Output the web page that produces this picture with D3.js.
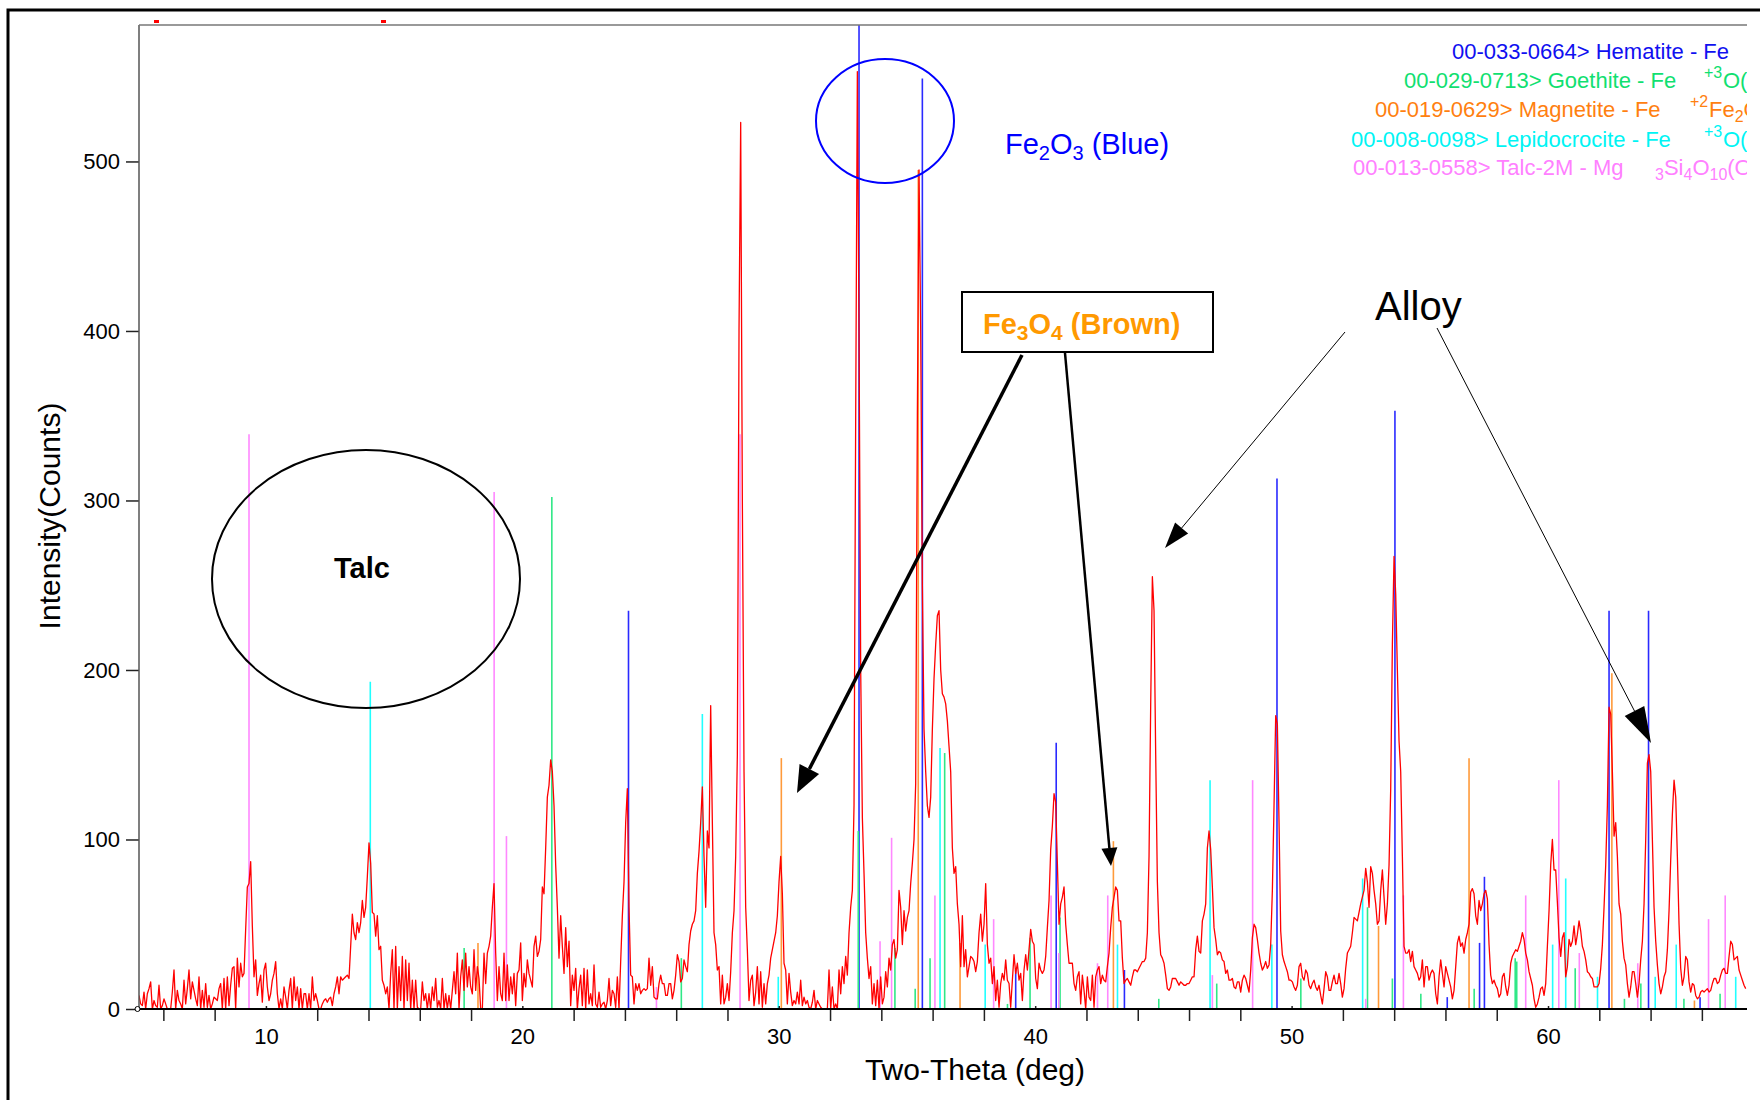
<!DOCTYPE html>
<html>
<head>
<meta charset="utf-8">
<script src="https://cdn.jsdelivr.net/npm/d3@7"></script>
<style>
body { margin: 0; background: #fff; }
text { font-family: "Liberation Sans", Arial, sans-serif; }
</style>
</head>
<body>
<div id="chart"></div>
<script>
var scanStart = 5.05;
var scanStep = 0.065;

var counts1 = [8,3,2,10,0,9,12,16,0,5, 2,1,14,0,2,6,3,0,0,0, 10,23,0,11,5,3,0,17,3,12,
    23,6,16,11,6,2,19,0,11,1, 15,1,8,0,3,7,6,5,12,15, 0,18,0,19,2,14,24,25,0,30,
    13,27,19,21,47,72,74,87,49,19, 29,8,15,20,4,23,27,13,5,9, 17,21,28,9,0,6,0,13,7,0,
    11,18,0,19,5,13,0,12,0,9, 9,0,9,0,19,5,9,5,0,0, 3,5,6,4,6,7,2,9,13,19,
    9,19,17,18,19,20,18,37,56,45, 41,51,45,51,64,54,60,78,98,86, 57,56,43,55,35,37,17,14,9,13,
    0,21,35,0,37,0,25,5,31,0, 29,5,27,0,17,0,17,1,0,0, 16,5,9,0,9,0,13,5,18,1,
    5,0,18,0,9,0,8,0,11,22, 9,33,0,19,29,11,33,13,25,13, 9,35,11,25,18,0,0,33,15,33,
    37,43,60,74,33,5,25,9,5,33, 5,26,5,19,9,21,2,21,23,39, 5,21,13,29,21,17,13,37,43,31,
    34,41,72,68];
var counts2 = [95,125,132,147,140,120,85,60,30,55, 37,21,48,25,40,2,20,11,24,0,
    12,20,2,24,0,23,3,9,2,26, 3,1,10,1,3,4,0,5,18,2, 11,9,1,19,0,28,55,75,110,130,
    60,20,19,3,15,11,15,9,11,12, 11,12,30,14,25,7,6,6,15,20, 15,15,8,8,15,15,6,11,20,32,
    28,16,18,29,25,22,38,46,50,52, 58,80,93,110];
var counts3 = [131,90,60,105,95,179,110,45,38,23, 25,3,20,3,7,15,5,22,45,58,
    90,150,400,523,300,140,60,35,5,17, 20,2,10,25,3,22,1,15,3,15, 20,30,35,40,45,55,75,90,68,27,
    23,3,21,10,2,5,3,10,3,17, 2,7,3,5,1,0,4,11,0,5, 3,1,0,0,0,0,23,0,13,0,
    3,0,23,9,25,15,31,20,45,60, 70,120,350,553,400,200,113,80,45,30, 18,25,3,15,2,17,0,19,3,7,
    22,13,30,23,38,41,30,35,70,60, 38,58,46,54,58,74,86,100,133,350, 495,400,250,165,140,120,113,125,165,195,
    215,232,235,200,186,184,180,170,155,140, 95,80,84,62,50,25,55,25,35,19, 25,31,30,28,22,28,45,56,40,50,
    74,38,27,30,15,25,5,17,1,15, 21,17,29,17,15,1,17,32,21,27, 17,21,5,23,32,23,35,47,40,38,
    18,12,27,23,21,23,31,48,64,94, 108,127,122,86,50,62,66,72,50,38, 27,27,27,15,11,19,22,3,20,11,
    0,19,7,5,20,1,19,23,25];
var counts4 = [15,20,17,16,25,33,48,60,66,72, 70,52,52,30,15,17,18,16,14,19,
    23,23,22,24,26,28,28,30,45,90, 180,255,235,150,75,45,32,30,27,20, 12,11,13,18,18,18,16,14,16,15,
    14,14,15,15,17,19,19,35,43,34, 33,52,56,62,95,105,94,72,48,41, 32,34,33,29,28,21,23,17,17,18,
    13,12,16,16,10,17,20,18,14,10, 23,42,50,48,41,33,27,23,25,28, 24,26,38,70,120,173,168,110,46,32,
    28,25,22,17,17,16,13,11,14,25, 27,19,17,23,21,14,12,15,17,13, 11,14,8,3,12,22,19,11,11,16,
    20,15,15,21,15,7,12,24,33,35, 37,45,54,53,52,57];
var counts5 = [62,66,70,83,75,60,84,80,70,62, 50,52,70,82,66,50,62,85,130,215,
    267,245,200,158,140,90,37,33,33,35, 28,34,25,23,21,17,19,29,13,25, 25,17,21,23,21,9,3,19,29,21,
    13,25,21,17,13,6,11,25,39,43, 37,39,33,41,45,50,69,71,68,55, 50,64,58,62,68,70,65,38,20,15,
    17,14,12,7,9,19,21,13,8,14, 27,31,33,35,34,37,40,45,41,33, 29,22,18,14,6,1,3,7,12,13,
    8,15,37,58,85,100,82,82,63,42, 31,42,45,19,25,41,37,40,49,38, 44,52,46,37,34,29,22,21,19,18,
    13,13,13,15,24,38,60,85,120,178, 174,140,102,110,90,62,56,40,30,26, 15,7,13,22,22,15,7,15,29,40,
    62,100,145,150,140,100,60,40,26,15, 9,13,19,22,35,58,88,115,135,125, 90,50,24,14,19,31,29,16,10,15,
    14,8,6,7,10,11,10,11,12,10, 11,15,18,18,15,16,20,23,24,21, 21,31,40,38,29,30,31,23,20,17,
    14,12];

var counts = counts1.concat(counts2, counts3, counts4, counts5);

// reference cards: [two-theta, stick height]
var hematite = [[24.14,235],[33.13,600],[35.6,549],[39.24,23],[40.82,157],[43.48,23],[49.43,313],
    [54.03,353],[56.07,7],[57.33,39],[57.52,78],[62.38,235],[63.92,235],[65.93,7]];
var goethite = [[17.73,36],[21.15,302],[26.2,30],[33.1,105],[34.53,36],[35.32,12],[35.9,30],[36.47,151],
    [38.92,3],[39.8,42],[40.97,54],[44.82,6],[47.08,15],[50.36,18],[52.96,60],[53.93,18],[55.04,9],
    [57.12,12],[58.72,30],[58.78,28],[61.06,24],[62.98,6],[63.62,15],[65.3,6],[66.71,9]];
var magnetite = [[18.27,39],[30.1,148],[35.44,495],[37.07,39],[43.05,99],[53.39,49],[56.92,148],
    [62.49,198],[65.71,5]];
var lepidocrocite = [[14.07,193],[27.02,174],[29.98,19],[36.29,154],[38.05,38],[43.21,38],[46.82,135],
    [49.23,38],[52.77,77],[60.18,38],[60.69,77],[61.93,19],[64.18,19],[65.0,38],[67.32,19]];
var talc = [[9.34,339],[18.9,305],[19.38,102],[25.23,13],[28.49,339],[33.95,40],[34.4,101],[36.09,67],
    [38.38,53],[40.62,67],[40.92,33],[42.43,27],[42.83,67],[46.91,20],[48.48,135],[52.89,6],[54.36,67],
    [59.13,67],[60.42,135],[61.22,33],[63.5,27],[66.26,53],[66.91,67]];

var cardLabels = ["00-033-0664> Hematite - Fe", "00-029-0713> Goethite - Fe", "00-019-0629> Magnetite - Fe",
    "00-008-0098> Lepidocrocite - Fe", "00-013-0558> Talc-2M - Mg"];
var cardColors = ["#1010f0", "#10e070", "#ff8010", "#00f4f4", "#ff80ff"];
var stickColors = ["#2a2aff", "#30e887", "#ff9a3a", "#20ffff", "#ff88ff"];

var xTicksMajor = [10, 20, 30, 40, 50, 60];
var xTicksMinor = [6, 8, 12, 14, 16, 18, 22, 24, 26, 28, 32, 34, 36, 38, 42, 44, 46, 48, 52, 54, 56, 58, 62, 64, 66];
var yTicks = [0, 100, 200, 300, 400, 500];

var W = 1760, H = 1100;
var plot = { left: 139, right: 1747, top: 25, bottom: 1009 };

var xScale = d3.scaleLinear().domain([5.05, 67.76]).range([plot.left, plot.right]);
var yScale = d3.scaleLinear().domain([0, 580.5]).range([plot.bottom, plot.top]);

var svg = d3.select("#chart").append("svg").attr("width", W).attr("height", H);

svg.append("defs").append("clipPath").attr("id", "plotclip")
    .append("rect").attr("x", plot.left).attr("y", plot.top)
    .attr("width", plot.right - plot.left).attr("height", plot.bottom - plot.top + 2);

// outer frame
svg.append("path").attr("d", "M8,1100 V10 H1760").attr("fill", "none")
    .attr("stroke", "#000").attr("stroke-width", 3);
svg.append("rect").attr("x", 154).attr("y", 20).attr("width", 5).attr("height", 3).attr("fill", "red");
svg.append("rect").attr("x", 381).attr("y", 20).attr("width", 5).attr("height", 3).attr("fill", "red");

var chartGroup = svg.append("g").attr("clip-path", "url(#plotclip)");

// reference sticks
[hematite, goethite, magnetite, lepidocrocite, talc].forEach(function (card, ci) {
    chartGroup.append("g").selectAll("line").data(card).enter().append("line")
        .attr("x1", function (d) { return xScale(d[0]); })
        .attr("x2", function (d) { return xScale(d[0]); })
        .attr("y1", yScale(0))
        .attr("y2", function (d) { return yScale(d[1]); })
        .attr("stroke", stickColors[ci])
        .attr("stroke-width", 1.6);
});

var line = d3.line()
    .x(function (d, i) { return xScale(scanStart + i * scanStep); })
    .y(function (d) { return yScale(d); });

chartGroup.append("path")
    .attr("fill", "none")
    .attr("stroke", "#ff0000")
    .attr("stroke-width", 1.3)
    .attr("stroke-linejoin", "round")
    .attr("d", line(counts));

// legend of cards (clipped at the plot edge like the original)
var legend = chartGroup.append("g").style("font-size", "22px");
var legendX = [1452, 1404, 1375, 1351, 1353];
var legendY = [59, 88, 117, 147, 175];
cardLabels.forEach(function (lab, i) {
    legend.append("text").attr("x", legendX[i]).attr("y", legendY[i])
        .attr("fill", cardColors[i]).text(lab);
});
function sup(x, y, s, c) {
    legend.append("text").attr("x", x).attr("y", y - 10).attr("fill", c)
        .style("font-size", "16px").text(s);
}
sup(1704, legendY[1], "+3", cardColors[1]);
legend.append("text").attr("x", 1723).attr("y", legendY[1]).attr("fill", cardColors[1]).text("O(OH)");
sup(1690, legendY[2], "+2", cardColors[2]);
var fe2 = legend.append("text").attr("x", 1709).attr("y", legendY[2]).attr("fill", cardColors[2]);
fe2.append("tspan").text("Fe");
fe2.append("tspan").attr("dy", 5).style("font-size", "16px").text("2");
fe2.append("tspan").attr("dy", -5).text("O");
sup(1704, legendY[3], "+3", cardColors[3]);
legend.append("text").attr("x", 1723).attr("y", legendY[3]).attr("fill", cardColors[3]).text("O(OH)");
var si = legend.append("text").attr("x", 1655).attr("y", legendY[4]).attr("fill", cardColors[4]);
si.append("tspan").attr("dy", 5).style("font-size", "16px").text("3");
si.append("tspan").attr("dy", -5).text("Si");
si.append("tspan").attr("dy", 5).style("font-size", "16px").text("4");
si.append("tspan").attr("dy", -5).text("O");
si.append("tspan").attr("dy", 5).style("font-size", "16px").text("10");
si.append("tspan").attr("dy", -5).text("(OH)");

// axes
var yAxis = d3.axisLeft(yScale).tickValues(yTicks).tickSize(13).tickPadding(6);
var xAxisMinor = d3.axisBottom(xScale).tickValues(xTicksMinor).tickSize(12).tickFormat("");
var xAxisMajor = d3.axisBottom(xScale).tickValues(xTicksMajor).tickSizeInner(-3).tickSizeOuter(0).tickPadding(19);

var gy = svg.append("g").attr("transform", "translate(" + plot.left + ",0)").call(yAxis);
var gx1 = svg.append("g").attr("transform", "translate(0," + plot.bottom + ")").call(xAxisMinor);
var gx2 = svg.append("g").attr("transform", "translate(0," + plot.bottom + ")").call(xAxisMajor);
[gy, gx1, gx2].forEach(function (g) {
    g.select(".domain").remove();
    g.selectAll("line").attr("stroke", "#222").attr("stroke-width", 1.5);
    g.selectAll("text").attr("fill", "#000").style("font-size", "22px")
        .style("font-family", "'Liberation Sans', Arial, sans-serif");
});

svg.append("line").attr("x1", plot.left).attr("x2", plot.left).attr("y1", plot.top).attr("y2", plot.bottom)
    .attr("stroke", "#555").attr("stroke-width", 1.5);
svg.append("line").attr("x1", plot.left).attr("x2", plot.right).attr("y1", plot.top).attr("y2", plot.top)
    .attr("stroke", "#777").attr("stroke-width", 1.5);
svg.append("line").attr("x1", plot.left).attr("x2", plot.right).attr("y1", plot.bottom).attr("y2", plot.bottom)
    .attr("stroke", "#000").attr("stroke-width", 2);
svg.append("circle").attr("cx", plot.left - 1.5).attr("cy", plot.bottom).attr("r", 2.5)
    .attr("fill", "#fff").attr("stroke", "#000").attr("stroke-width", 1);

svg.append("text").attr("x", 975).attr("y", 1080).attr("text-anchor", "middle")
    .style("font-size", "30px").text("Two-Theta (deg)");
svg.append("text").attr("transform", "translate(60,516) rotate(-90)").attr("text-anchor", "middle")
    .style("font-size", "30px").text("Intensity(Counts)");

// annotations
svg.append("ellipse").attr("cx", 366).attr("cy", 579).attr("rx", 154).attr("ry", 129)
    .attr("fill", "none").attr("stroke", "#000").attr("stroke-width", 2);
svg.append("text").attr("x", 362).attr("y", 578).attr("text-anchor", "middle")
    .style("font-size", "29px").style("font-weight", "bold").text("Talc");

svg.append("ellipse").attr("cx", 885).attr("cy", 121).attr("rx", 69).attr("ry", 62)
    .attr("fill", "none").attr("stroke", "#0000ff").attr("stroke-width", 2);
var fe2o3 = svg.append("text").attr("x", 1005).attr("y", 154).attr("fill", "#0000ff").style("font-size", "29px");
fe2o3.append("tspan").text("Fe");
fe2o3.append("tspan").attr("dy", 6).style("font-size", "20px").text("2");
fe2o3.append("tspan").attr("dy", -6).text("O");
fe2o3.append("tspan").attr("dy", 6).style("font-size", "20px").text("3");
fe2o3.append("tspan").attr("dy", -6).text(" (Blue)");

svg.append("rect").attr("x", 962).attr("y", 292).attr("width", 251).attr("height", 60)
    .attr("fill", "#fff").attr("stroke", "#000").attr("stroke-width", 2);
var fe3o4 = svg.append("text").attr("x", 983).attr("y", 334).attr("fill", "#ff9900")
    .style("font-size", "29px").style("font-weight", "bold");
fe3o4.append("tspan").text("Fe");
fe3o4.append("tspan").attr("dy", 6).style("font-size", "21px").text("3");
fe3o4.append("tspan").attr("dy", -6).text("O");
fe3o4.append("tspan").attr("dy", 6).style("font-size", "21px").text("4");
fe3o4.append("tspan").attr("dy", -6).text(" (Brown)");

svg.append("text").attr("x", 1375).attr("y", 320).style("font-size", "40px").text("Alloy");

function arrow(x1, y1, x2, y2, w, len, hw) {
    var dx = x2 - x1, dy = y2 - y1, L = Math.sqrt(dx * dx + dy * dy);
    var ux = dx / L, uy = dy / L;
    var bx = x2 - ux * len, by = y2 - uy * len;
    svg.append("line").attr("x1", x1).attr("y1", y1).attr("x2", bx).attr("y2", by)
        .attr("stroke", "#000").attr("stroke-width", w);
    svg.append("path")
        .attr("d", "M" + x2 + "," + y2 + "L" + (bx - uy * hw / 2) + "," + (by + ux * hw / 2) +
            "L" + (bx + uy * hw / 2) + "," + (by - ux * hw / 2) + "Z")
        .attr("fill", "#000");
}
arrow(1022, 355, 797, 793, 3.5, 27, 22);
arrow(1065, 353, 1111, 866, 2.5, 18, 16);
arrow(1345, 332, 1165, 548, 1, 26, 17);
arrow(1437, 328, 1651, 743, 1, 36, 22);
</script>
</body>
</html>
